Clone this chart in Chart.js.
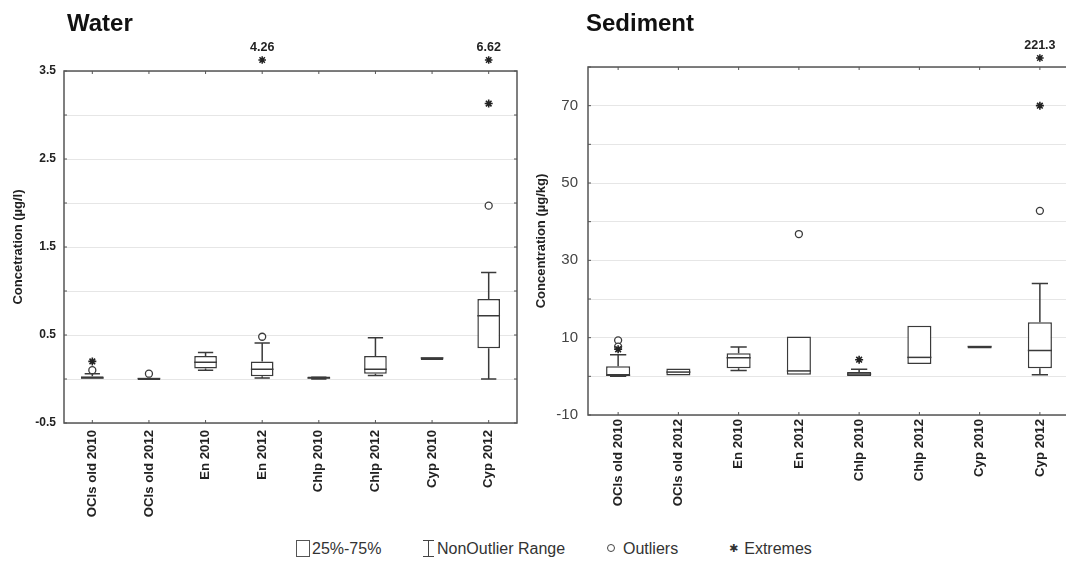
<!DOCTYPE html>
<html lang="en">
<head>
<meta charset="UTF-8">
<title>Water and Sediment concentrations</title>
<script src="https://cdn.jsdelivr.net/npm/chart.js"></script>
<style>
    body {
        margin: 0;
        padding: 0;
        background: #fff;
        width: 1066px;
        height: 569px;
        overflow: hidden;
        position: relative;
        font-family: Arial, "Liberation Sans", sans-serif;
    }

    canvas {
        position: absolute;
        top: 0;
    }

    #waterChart { left: 0; }
    #sedimentChart { left: 530px; }

    .lg {
        position: absolute;
        top: 540px;
        font-size: 16px;
        color: #333;
        white-space: nowrap;
    }

    .ic-box {
        display: inline-block;
        width: 12px;
        height: 15px;
        border: 1px solid #555;
        vertical-align: -3px;
        margin-right: 2px;
    }

    .ic-range {
        display: inline-block;
        position: relative;
        width: 11px;
        height: 15px;
        border-top: 1px solid #444;
        border-bottom: 1px solid #444;
        vertical-align: -3px;
        margin-right: 3px;
    }

    .ic-range::after {
        content: "";
        position: absolute;
        left: 5px;
        top: 0;
        bottom: 0;
        width: 1px;
        background: #444;
    }

    .ic-out {
        display: inline-block;
        width: 6px;
        height: 6px;
        border: 1px solid #444;
        border-radius: 50%;
        vertical-align: 2px;
        margin-right: 8px;
    }

    .ic-ext {
        font-family: "DejaVu Sans", sans-serif;
        font-size: 11px;
        vertical-align: 2px;
        margin-right: 6px;
    }
</style>
</head>
<body>
<canvas id="waterChart" width="530" height="530"></canvas>
<canvas id="sedimentChart" width="560" height="530"></canvas>

<span class="lg" style="left:296px"><i class="ic-box"></i>25%-75%</span>
<span class="lg" style="left:423px"><i class="ic-range"></i>NonOutlier Range</span>
<span class="lg" style="left:607px"><i class="ic-out"></i>Outliers</span>
<span class="lg" style="left:729px"><i class="ic-ext">✱</i>Extremes</span>

<script>
    const categories = ['OCls old 2010', 'OCls old 2012', 'En 2010', 'En 2012', 'Chlp 2010', 'Chlp 2012', 'Cyp 2010', 'Cyp 2012'];

    // Water (µg/l)
    const waterMin    = [0.00, 0.00, 0.10, 0.01, 0.00, 0.04, 0.24, 0.00];
    const waterQ1     = [0.00, 0.00, 0.12, 0.03, 0.005, 0.06, 0.24, 0.35];
    const waterMedian = [0.01, 0.005, 0.19, 0.11, 0.01, 0.11, 0.24, 0.72];
    const waterQ3     = [0.03, 0.01, 0.26, 0.20, 0.015, 0.26, 0.24, 0.91];
    const waterMax    = [0.06, 0.01, 0.30, 0.41, 0.02, 0.47, 0.24, 1.21];
    const waterOutliers = [[0, 0.10], [1, 0.06], [3, 0.48], [7, 1.97]];
    const waterExtremes = [[0, 0.20], [7, 3.13]];
    const waterOffScale = [[3, 4.26], [7, 6.62]];   // above the axis maximum

    // Sediment (µg/kg)
    const sedMin    = [0.0, 0.2, 1.5, 0.4, 0.1, 3.2, 7.7, 0.4];
    const sedQ1     = [0.2, 0.2, 2.1, 0.4, 0.1, 3.2, 7.7, 2.1];
    const sedMedian = [0.3, 1.1, 4.8, 1.4, 0.6, 4.9, 7.7, 6.7];
    const sedQ3     = [2.6, 2.0, 6.0, 10.3, 1.1, 13.1, 7.7, 14.0];
    const sedMax    = [5.6, 2.0, 7.6, 10.3, 1.8, 13.1, 7.7, 24.0];
    const sedOutliers = [[0, 9.3], [0, 7.7], [3, 36.8], [7, 42.8]];
    const sedExtremes = [[0, 7.0], [4, 4.3], [7, 70]];
    const sedOffScale = [[7, 221.3]];

    const ink = '#3a3a3a';

    // label every other gridline
    function tickLabel(v, step) {
        return Math.abs(Math.round(v / step)) % 2 === 1 ? String(Math.round(v * 10) / 10) : '';
    }

    function drawStar(ctx, x, y, r) {
        ctx.beginPath();
        for (let k = 0; k < 4; k++) {
            const a = k * Math.PI / 4;
            ctx.moveTo(x - r * Math.cos(a), y - r * Math.sin(a));
            ctx.lineTo(x + r * Math.cos(a), y + r * Math.sin(a));
        }
        ctx.stroke();
    }

    // whiskers, medians, frame, titles and off-scale extremes
    function boxParts(p) {
        return {
            id: 'boxParts',
            afterDatasetsDraw(chart) {
                const { ctx, scales: { x, y } } = chart;
                const cw = x.getPixelForValue(1) - x.getPixelForValue(0);
                const half = cw * 0.2, cap = cw * 0.135;
                ctx.save();
                ctx.strokeStyle = ink;
                ctx.lineWidth = 1.5;
                categories.forEach((c, i) => {
                    const cx = x.getPixelForValue(i);
                    ctx.beginPath();
                    if (p.max[i] > p.q3[i]) {
                        const yMax = y.getPixelForValue(p.max[i]);
                        ctx.moveTo(cx, y.getPixelForValue(p.q3[i]));
                        ctx.lineTo(cx, yMax);
                        ctx.moveTo(cx - cap, yMax);
                        ctx.lineTo(cx + cap, yMax);
                    }
                    if (p.min[i] < p.q1[i]) {
                        const yMin = y.getPixelForValue(p.min[i]);
                        ctx.moveTo(cx, y.getPixelForValue(p.q1[i]));
                        ctx.lineTo(cx, yMin);
                        ctx.moveTo(cx - cap, yMin);
                        ctx.lineTo(cx + cap, yMin);
                    }
                    const yMed = y.getPixelForValue(p.median[i]);
                    ctx.moveTo(cx - half, yMed);
                    ctx.lineTo(cx + half, yMed);
                    ctx.stroke();
                });
                ctx.restore();
            },
            afterDraw(chart) {
                const { ctx, chartArea: a, scales: { x, y } } = chart;
                ctx.save();
                // frame
                ctx.strokeStyle = '#555';
                ctx.lineWidth = 1.5;
                ctx.strokeRect(a.left, a.top, a.right - a.left, a.bottom - a.top);
                // small inward ticks
                ctx.lineWidth = 1;
                ctx.beginPath();
                categories.forEach((c, i) => {
                    const cx = x.getPixelForValue(i);
                    ctx.moveTo(cx, a.top); ctx.lineTo(cx, a.top + 3);
                    ctx.moveTo(cx, a.bottom); ctx.lineTo(cx, a.bottom - 3);
                });
                y.ticks.forEach(t => {
                    const ty = y.getPixelForValue(t.value);
                    ctx.moveTo(a.left, ty); ctx.lineTo(a.left + 3, ty);
                    ctx.moveTo(a.right, ty); ctx.lineTo(a.right - 3, ty);
                });
                ctx.stroke();
                // values beyond the axis
                ctx.strokeStyle = '#222';
                ctx.lineWidth = 1.5;
                ctx.fillStyle = '#222';
                ctx.font = 'bold 12.5px Arial';
                ctx.textAlign = 'center';
                ctx.textBaseline = 'alphabetic';
                p.offScale.forEach(([i, v]) => {
                    const cx = x.getPixelForValue(i);
                    const sy = a.top - p.offGap;
                    drawStar(ctx, cx, sy, 3.8);
                    ctx.fillText(String(v), cx, sy - 9);
                });
                // panel title
                ctx.fillStyle = '#111';
                ctx.font = 'bold 24px Arial';
                ctx.textAlign = 'left';
                ctx.fillText(p.title, p.titleX, p.titleY);
                ctx.restore();
            }
        };
    }

    function makeChart(id, p) {
        const toPts = list => list.map(([i, v]) => ({ x: categories[i], y: v }));
        return new Chart(document.getElementById(id), {
            type: 'bar',
            data: {
                labels: categories,
                datasets: [
                    {
                        label: '25%-75%',
                        data: categories.map((c, i) => [p.q1[i], p.q3[i]]),
                        backgroundColor: '#fff',
                        borderColor: ink,
                        borderWidth: 1.5,
                        borderSkipped: false,
                        barPercentage: 0.4,
                        categoryPercentage: 1,
                        minBarLength: 2,
                        order: 3
                    },
                    {
                        type: 'line',
                        label: 'Outliers',
                        data: toPts(p.outliers),
                        showLine: false,
                        clip: false,
                        pointStyle: 'circle',
                        pointRadius: 3.5,
                        pointBackgroundColor: '#fff',
                        pointBorderColor: ink,
                        pointBorderWidth: 1.3,
                        order: 2
                    },
                    {
                        type: 'line',
                        label: 'Extremes',
                        data: toPts(p.extremes),
                        showLine: false,
                        clip: false,
                        pointStyle: 'star',
                        pointRadius: 4,
                        pointBorderColor: '#222',
                        pointBorderWidth: 1.6,
                        order: 1
                    }
                ]
            },
            options: {
                responsive: false,
                animation: false,
                events: [],
                layout: { padding: { top: p.top, right: p.right, left: 0, bottom: 0 } },
                plugins: { legend: { display: false }, tooltip: { enabled: false } },
                scales: {
                    x: {
                        grid: { display: false, drawTicks: false },
                        border: { display: false },
                        ticks: {
                            autoSkip: false,
                            minRotation: 90,
                            maxRotation: 90,
                            padding: p.xPad,
                            color: '#222',
                            font: { family: 'Arial', weight: 'bold', size: 13.2 }
                        },
                        afterFit(s) { s.height = p.xHeight; }
                    },
                    y: {
                        min: p.min0,
                        max: p.max0,
                        grid: { color: '#e6e6e6', lineWidth: 1, drawTicks: false },
                        border: { display: false },
                        ticks: {
                            stepSize: p.step,
                            padding: p.yPad,
                            color: p.tickColor,
                            font: p.tickFont,
                            callback: v => tickLabel(v, p.step)
                        },
                        title: {
                            display: true,
                            text: p.yTitle,
                            color: '#222',
                            font: { family: 'Arial', weight: 'bold', size: 13 },
                            padding: { top: p.titlePad, bottom: 0 }
                        },
                        afterFit(s) { s.width = p.yWidth; }
                    }
                }
            },
            plugins: [boxParts(p)]
        });
    }

    makeChart('waterChart', {
        q1: waterQ1, q3: waterQ3, median: waterMedian, min: waterMin, max: waterMax,
        outliers: waterOutliers, extremes: waterExtremes, offScale: waterOffScale,
        title: 'Water', titleX: 67, titleY: 31,
        yTitle: 'Concetration (µg/l)', titlePad: 10.7,
        min0: -0.5, max0: 3.5, step: 0.5,
        tickColor: '#222', tickFont: { family: 'Arial', weight: 'bold', size: 12 },
        top: 71, right: 13, yWidth: 64, xHeight: 107, xPad: 7, yPad: 8, offGap: 11
    });

    makeChart('sedimentChart', {
        q1: sedQ1, q3: sedQ3, median: sedMedian, min: sedMin, max: sedMax,
        outliers: sedOutliers, extremes: sedExtremes, offScale: sedOffScale,
        title: 'Sediment', titleX: 56, titleY: 31,
        yTitle: 'Concentration (µg/kg)', titlePad: 3.2,
        min0: -10, max0: 80, step: 10,
        tickColor: '#444', tickFont: { family: 'Arial', size: 15 },
        top: 67, right: 20, yWidth: 58, xHeight: 115, xPad: 4, yPad: 10, offGap: 9
    });
</script>
</body>
</html>
